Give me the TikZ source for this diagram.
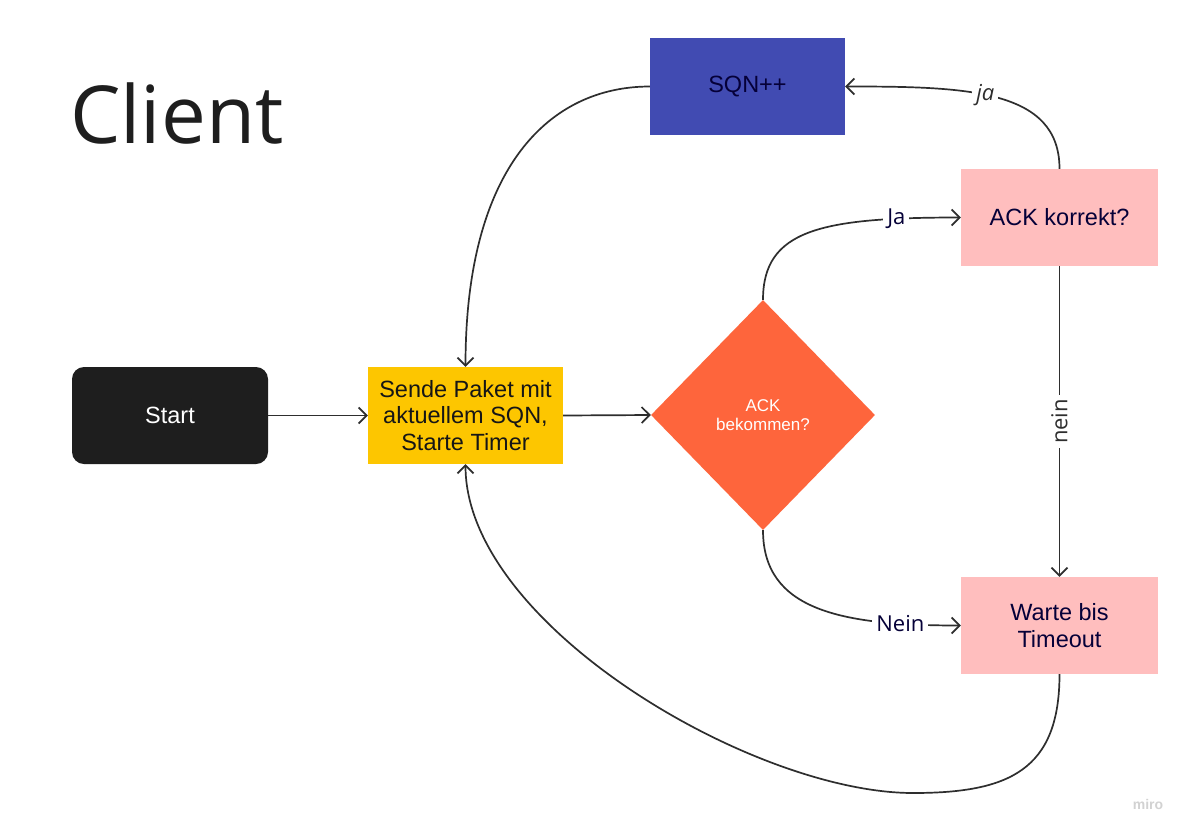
\documentclass[tikz,border=0pt]{standalone}
\usepackage{fontspec}
\setmainfont{Liberation Sans}
\newfontfamily\labelfont{Open Sans}
\usetikzlibrary{arrows.meta,shapes.geometric,calc}

\definecolor{startblack}{HTML}{1E1E1E}
\definecolor{sendyellow}{HTML}{FDC600}
\definecolor{decisionorange}{HTML}{FE653C}
\definecolor{sqnblue}{HTML}{414BB2}
\definecolor{softpink}{HTML}{FFBEBE}
\definecolor{navy}{HTML}{050038}
\definecolor{linegray}{HTML}{2E2E2E}
\definecolor{textblack}{HTML}{161616}
\definecolor{markgray}{HTML}{D2D2D2}

\begin{document}
\begin{tikzpicture}[
  x=1pt, y=-1pt,
  box/.style={draw=none, minimum width=197pt, minimum height=97pt,
    inner sep=0pt, align=center, text=navy,
    font=\fontsize{23.5}{26.5}\selectfont},
  flow/.style={draw=linegray, line width=1.7pt,
    -{Straight Barb[length=8pt,width=16pt]}},
  lbl/.style={fill=white, inner sep=4pt, text=navy,
    font=\labelfont\fontsize{22}{26}\selectfont}
]
\useasboundingbox (0,0) rectangle (1193,838);
\fill[white] (0,0) rectangle (1193,838);

% title
\node[anchor=base west, inner sep=0pt, text=startblack,
  font=\labelfont\fontsize{80}{94}\selectfont] (title) at (70,143) {Client};

% process nodes
\node[box, fill=startblack, rounded corners=12pt, text=white,
  minimum width=196pt] (start) at (170,415.5) {Start};
\node[box, fill=sendyellow, text=textblack, minimum width=195pt]
  (send) at (465.5,415.5) {Sende Paket mit\\aktuellem SQN,\\Starte Timer};
\node[diamond, fill=decisionorange, minimum width=224pt, minimum height=230pt,
  inner sep=0pt, align=center, text=white,
  font=\fontsize{17}{18.5}\selectfont] (ack) at (763,415) {ACK\\bekommen?};
\node[box, fill=sqnblue, minimum width=195pt] (sqn) at (747.5,86.5) {SQN++};
\node[box, fill=softpink] (chk) at (1059.5,217.5) {ACK korrekt?};
\node[box, fill=softpink] (wait) at (1059.5,625.5) {Warte bis\\Timeout};

% connectors
\draw[flow] (start.east) -- (send.west);
\draw[flow] (send.east) -- (ack.west);
\draw[flow] (ack.north) .. controls ($(ack.north)+(0,-70)$) and ($(chk.west)+(-140,0)$)
  .. node[lbl, pos=0.83] {Ja} (chk.west);
\draw[flow] (ack.south) .. controls ($(ack.south)+(0,80)$) and ($(wait.west)+(-120,0)$)
  .. node[lbl, pos=0.82] {Nein} (wait.west);
\draw[flow] (chk.south) -- node[lbl, rotate=90, text=linegray] {nein} (wait.north);
\draw[flow] (chk.north) .. controls ($(chk.north)+(0,-80)$) and ($(sqn.east)+(120,0)$)
  .. node[lbl, pos=0.55, text=linegray, font=\labelfont\itshape\fontsize{22}{26}\selectfont] {ja} (sqn.east);
\draw[flow] (sqn.west) .. controls ($(sqn.west)+(-100,0)$) and ($(send.north)+(0,-200)$)
  .. (send.north);
\coordinate (turn) at (913,793);
\draw[flow] (wait.south) .. controls ($(wait.south)+(0,96)$) and ($(turn)+(96,0)$)
  .. (turn) .. controls ($(turn)+(-160,0)$) and ($(send.south)+(0,160)$) .. (send.south);

% board watermark
\node[text=markgray, font=\bfseries\fontsize{14}{16}\selectfont] (mark) at (1148,804) {miro};
\end{tikzpicture}
\end{document}
